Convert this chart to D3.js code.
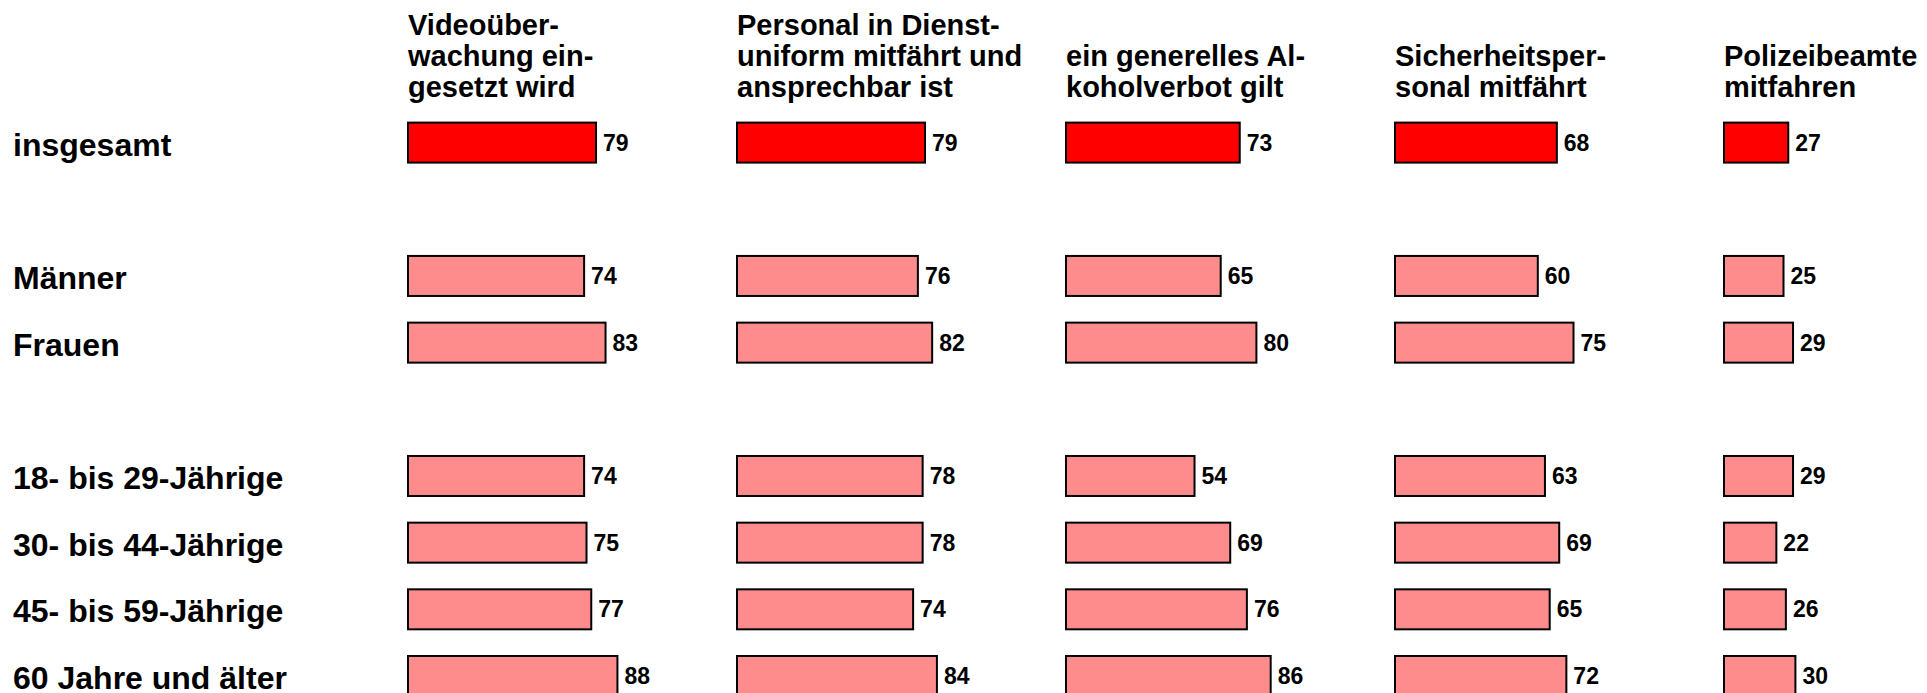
<!DOCTYPE html>
<html>
<head>
<meta charset="utf-8">
<script src="https://cdn.jsdelivr.net/npm/d3@7"></script>
<style>
  body { margin: 0; background: #fff; }
  text { font-family: "Liberation Sans", Arial, sans-serif; font-weight: bold; fill: #000; }
</style>
</head>
<body>
<script>
const w = 1927;
const h = 693;

// Spaltenüberschriften (Zeilenumbrüche wie im Original)
const columns = [
  ["Videoüber-", "wachung ein-", "gesetzt wird"],
  ["Personal in Dienst-", "uniform mitfährt und", "ansprechbar ist"],
  ["ein generelles Al-", "koholverbot gilt"],
  ["Sicherheitsper-", "sonal mitfährt"],
  ["Polizeibeamte", "mitfahren"]
];

// Zeilen, in Gruppen (Leerzeile zwischen den Gruppen)
const groups = [
  ["insgesamt"],
  ["Männer", "Frauen"],
  ["18- bis 29-Jährige", "30- bis 44-Jährige", "45- bis 59-Jährige", "60 Jahre und älter"]
];

const video      = [79, 74, 83, 74, 75, 77, 88];
const personal   = [79, 76, 82, 78, 78, 74, 84];
const alkohol    = [73, 65, 80, 54, 69, 76, 86];
const sicherheit = [68, 60, 75, 63, 69, 65, 72];
const polizei    = [27, 25, 29, 29, 22, 26, 30];

const series = [video, personal, alkohol, sicherheit, polizei];
const rows = groups.flat();

// slots incl. spacers
let slots = [];
groups.forEach((g, i) => {
  if (i > 0) slots.push("_gap" + i);
  slots = slots.concat(g);
});

const svg = d3.select("body").append("svg")
  .attr("width", w)
  .attr("height", h);

const y = d3.scalePoint()
  .domain(slots)
  .range([142.6, 676]);

const col = d3.scalePoint()
  .domain(d3.range(columns.length))
  .range([408, 1724]);

const x = d3.scaleLinear()
  .domain([0, 100])
  .range([0, 238]);

const barH = 40;

// row labels
svg.append("g")
  .selectAll("text")
  .data(rows)
  .enter()
  .append("text")
  .attr("x", 13)
  .attr("y", (d) => y(d) + 13)
  .style("font-size", "32px")
  .text((d) => d);

// headers
columns.forEach((lines, c) => {
  svg.append("g")
    .selectAll("text")
    .data(lines)
    .enter()
    .append("text")
    .attr("x", col(c))
    .attr("y", (d, i) => 97 - (lines.length - 1 - i) * 31)
    .style("font-size", "29px")
    .text((d) => d);
});

// bars + values
series.forEach((vals, c) => {
  const g = svg.append("g").attr("transform", "translate(" + col(c) + ",0)");
  g.selectAll("rect")
    .data(vals)
    .enter()
    .append("rect")
    .attr("x", 0)
    .attr("y", (d, i) => y(rows[i]) - barH / 2)
    .attr("width", (d) => x(d))
    .attr("height", barH)
    .attr("fill", (d, i) => i === 0 ? "#ff0000" : "#ff8c8c")
    .attr("stroke", "#000")
    .attr("stroke-width", 2);
  g.selectAll("text")
    .data(vals)
    .enter()
    .append("text")
    .attr("x", (d) => x(d) + 7)
    .attr("y", (d, i) => y(rows[i]))
    .attr("dy", "0.35em")
    .style("font-size", "23px")
    .text((d) => d);
});
</script>
</body>
</html>
